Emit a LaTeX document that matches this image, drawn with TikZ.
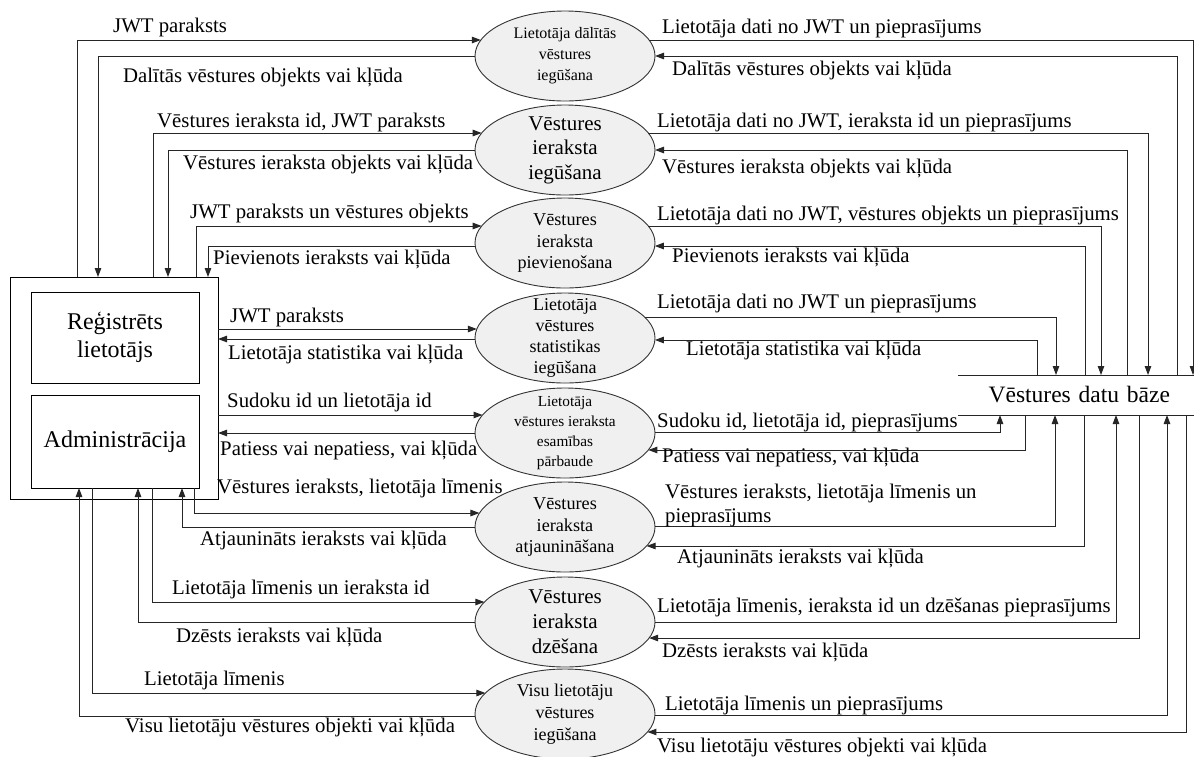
\documentclass[tikz,border=0pt]{standalone}
\usepackage{fontspec}
\setmainfont{Liberation Serif}
\usetikzlibrary{arrows.meta,calc,shapes.geometric}

% point where a horizontal flow line meets a process ellipse
% #1 coordinate name, #2 ellipse, #3 side (1 right, -1 left), #4 offset above the centre
\newcommand\hit[4]{%
  \pgfmathsetmacro\hitx{(#3)*90*sqrt(1-((#4)/45)^2)}%
  \pgfmathsetmacro\hity{-(#4)}%
  \coordinate (#1) at ($(#2.center)+(\hitx,\hity)$);%
}

\begin{document}
\begin{tikzpicture}[x=1pt,y=-1pt,
  flow/.style={draw=black!85, line width=1pt, -{Triangle[length=9pt,width=6.5pt]}},
  plain/.style={draw=black!85, line width=1pt},
  proc/.style={ellipse, draw=black!80, line width=0.9pt, fill=black!6,
    minimum width=180pt, minimum height=90pt, inner sep=-15pt, outer sep=0pt, align=center},
  box/.style={rectangle, draw=black, line width=1pt, inner sep=0pt, outer sep=0pt, align=center,
    font=\fontsize{24}{28}\selectfont},
  store/.style={rectangle, minimum width=236pt, minimum height=40pt, text width=188pt,
    inner xsep=24pt, inner ysep=0pt, outer sep=0pt, align=right, font=\fontsize{23.5}{28}\selectfont},
  lbl/.style={font=\fontsize{20.8}{24}\selectfont, inner sep=0pt, anchor=base west, align=left},
  f16/.style={font=\fontsize{16}{21}\selectfont},
  f21/.style={font=\fontsize{21}{24.5}\selectfont},
  f18/.style={font=\fontsize{18.2}{21.5}\selectfont},
  f15/.style={font=\fontsize{15.3}{19.8}\selectfont}]

\useasboundingbox (0,0) rectangle (1194,756);
\fill[white] (0,0) rectangle (1194,756);

% external entity with its two roles
\node[box, minimum width=208pt, minimum height=222pt] (user) at (114,388) {};
\node[box, minimum width=168pt, minimum height=91pt] (reg) at (115,337.5) {Reģistrēts\\lietotājs};
\node[box, minimum width=168pt, minimum height=93pt] (adm) at (115,441.5) {Administrācija};

% data store
\node[store] (db) at (1076,395) {Vēstures datu bāze};
\draw[plain] (db.north west) -- (db.north east) (db.south west) -- (db.south east);

% processes
\node[proc, f16] (e1) at (565,56)  {Lietotāja dālītās\\vēstures\\iegūšana};
\node[proc, f21] (e2) at (565,150) {Vēstures\\ieraksta\\iegūšana};
\node[proc, f18] (e3) at (565,243) {Vēstures\\ieraksta\\pievienošana};
\node[proc, font=\fontsize{18}{21}\selectfont] (e4) at (565,338) {Lietotāja\\vēstures\\statistikas\\iegūšana};
\node[proc, f15] (e5) at (565,433) {Lietotāja\\vēstures ieraksta\\esamības\\pārbaude};
\node[proc, f18] (e6) at (565,527) {Vēstures\\ieraksta\\atjaunināšana};
\node[proc, font=\fontsize{21}{25}\selectfont] (e7) at (565,622) {Vēstures\\ieraksta\\dzēšana};
\node[proc, font=\fontsize{18}{21.7}\selectfont] (e8) at (565,714) {Visu lietotāju\\vēstures\\iegūšana};

% border points: a = request from user, b = answer to user,
% c = request to the store, d = answer from the store
\hit{a1}{e1}{-1}{16} \hit{b1}{e1}{-1}{0}  \hit{c1}{e1}{1}{16} \hit{d1}{e1}{1}{0}
\hit{a2}{e2}{-1}{17} \hit{b2}{e2}{-1}{0}  \hit{c2}{e2}{1}{17} \hit{d2}{e2}{1}{0}
\hit{a3}{e3}{-1}{17} \hit{b3}{e3}{-1}{-3} \hit{c3}{e3}{1}{17} \hit{d3}{e3}{1}{-3}
\hit{a4}{e4}{-1}{9}  \hit{b4}{e4}{-1}{-1} \hit{c4}{e4}{1}{21} \hit{d4}{e4}{1}{-2}
\hit{a5}{e5}{-1}{18} \hit{b5}{e5}{-1}{0}  \hit{c5}{e5}{1}{1}  \hit{d5}{e5}{1}{-17}
\hit{a6}{e6}{-1}{14} \hit{b6}{e6}{-1}{0}  \hit{c6}{e6}{1}{1}  \hit{d6}{e6}{1}{-19}
\hit{a7}{e7}{-1}{20} \hit{b7}{e7}{-1}{0}  \hit{c7}{e7}{1}{0}  \hit{d7}{e7}{1}{-16}
\hit{a8}{e8}{-1}{21} \hit{b8}{e8}{-1}{-2} \hit{c8}{e8}{1}{-1} \hit{d8}{e8}{1}{-18}

% user side flows
\draw[flow] (77,0 |- user.north) |- (a1);
\draw[flow] (b1) -| (98,0 |- user.north);
\draw[flow] (153,0 |- user.north) |- (a2);
\draw[flow] (b2) -| (168,0 |- user.north);
\draw[flow] (196,0 |- user.north) |- (a3);
\draw[flow] (b3) -| (208,0 |- user.north);
\draw[flow] (user.east |- a4) -- (a4);
\draw[flow] (b4) -- (user.east |- b4);
\draw[flow] (user.east |- a5) -- (a5);
\draw[flow] (b5) -- (user.east |- b5);
\draw[flow] (194,0 |- adm.south) |- (a6);
\draw[flow] (b6) -| (182,0 |- adm.south);
\draw[flow] (152,0 |- adm.south) |- (a7);
\draw[flow] (b7) -| (138,0 |- adm.south);
\draw[flow] (92,0 |- adm.south) |- (a8);
\draw[flow] (b8) -| (79,0 |- adm.south);

% store side flows
\draw[flow] (c1) -| (1193,0 |- db.north);
\draw[flow] (1177,0 |- db.north) |- (d1);
\draw[flow] (c2) -| (1148,0 |- db.north);
\draw[flow] (1127,0 |- db.north) |- (d2);
\draw[flow] (c3) -| (1101,0 |- db.north);
\draw[flow] (1085,0 |- db.north) |- (d3);
\draw[flow] (c4) -| (1056,0 |- db.north);
\draw[flow] (1037,0 |- db.north) |- (d4);
\draw[flow] (c5) -| (1000,0 |- db.south);
\draw[flow] (1025,0 |- db.south) |- (d5);
\draw[flow] (c6) -| (1055,0 |- db.south);
\draw[flow] (1084,0 |- db.south) |- (d6);
\draw[flow] (c7) -| (1116,0 |- db.south);
\draw[flow] (1139,0 |- db.south) |- (d7);
\draw[flow] (c8) -| (1167,0 |- db.south);
\draw[flow] (1186,0 |- db.south) |- (d8);

% labels, user side
\node[lbl] (la1) at (113,32)  {JWT paraksts};
\node[lbl] (lb1) at (123,82)  {Dalītās vēstures objekts vai kļūda};
\node[lbl] (la2) at (157,127) {Vēstures ieraksta id, JWT paraksts};
\node[lbl] (lb2) at (183,169) {Vēstures ieraksta objekts vai kļūda};
\node[lbl] (la3) at (190,218) {JWT paraksts un vēstures objekts};
\node[lbl] (lb3) at (213,264) {Pievienots ieraksts vai kļūda};
\node[lbl] (la4) at (230,322) {JWT paraksts};
\node[lbl] (lb4) at (228,359) {Lietotāja statistika vai kļūda};
\node[lbl] (la5) at (227,407) {Sudoku id un lietotāja id};
\node[lbl] (lb5) at (220,455) {Patiess vai nepatiess, vai kļūda};
\node[lbl] (la6) at (217,493) {Vēstures ieraksts, lietotāja līmenis};
\node[lbl] (lb6) at (200,545) {Atjaunināts ieraksts vai kļūda};
\node[lbl] (la7) at (172,594) {Lietotāja līmenis un ieraksta id};
\node[lbl] (lb7) at (176,642) {Dzēsts ieraksts vai kļūda};
\node[lbl] (la8) at (144,685) {Lietotāja līmenis};
\node[lbl] (lb8) at (125,732) {Visu lietotāju vēstures objekti vai kļūda};

% labels, store side
\node[lbl] (lc1) at (662,33)  {Lietotāja dati no JWT un pieprasījums};
\node[lbl] (ld1) at (672,75)  {Dalītās vēstures objekts vai kļūda};
\node[lbl] (lc2) at (657,127) {Lietotāja dati no JWT, ieraksta id un pieprasījums};
\node[lbl] (ld2) at (662,173) {Vēstures ieraksta objekts vai kļūda};
\node[lbl] (lc3) at (657,220) {Lietotāja dati no JWT, vēstures objekts un pieprasījums};
\node[lbl] (ld3) at (672,262) {Pievienots ieraksts vai kļūda};
\node[lbl] (lc4) at (657,308) {Lietotāja dati no JWT un pieprasījums};
\node[lbl] (ld4) at (686,355) {Lietotāja statistika vai kļūda};
\node[lbl] (lc5) at (657,427) {Sudoku id, lietotāja id, pieprasījums};
\node[lbl] (ld5) at (662,462) {Patiess vai nepatiess, vai kļūda};
\node[lbl] (lc6) at (665,522) {Vēstures ieraksts, lietotāja līmenis un\\pieprasījums};
\node[lbl] (ld6) at (677,563) {Atjaunināts ieraksts vai kļūda};
\node[lbl] (lc7) at (657,612) {Lietotāja līmenis, ieraksta id un dzēšanas pieprasījums};
\node[lbl] (ld7) at (662,657) {Dzēsts ieraksts vai kļūda};
\node[lbl] (lc8) at (665,710) {Lietotāja līmenis un pieprasījums};
\node[lbl] (ld8) at (657,752) {Visu lietotāju vēstures objekti vai kļūda};

\end{tikzpicture}
\end{document}
